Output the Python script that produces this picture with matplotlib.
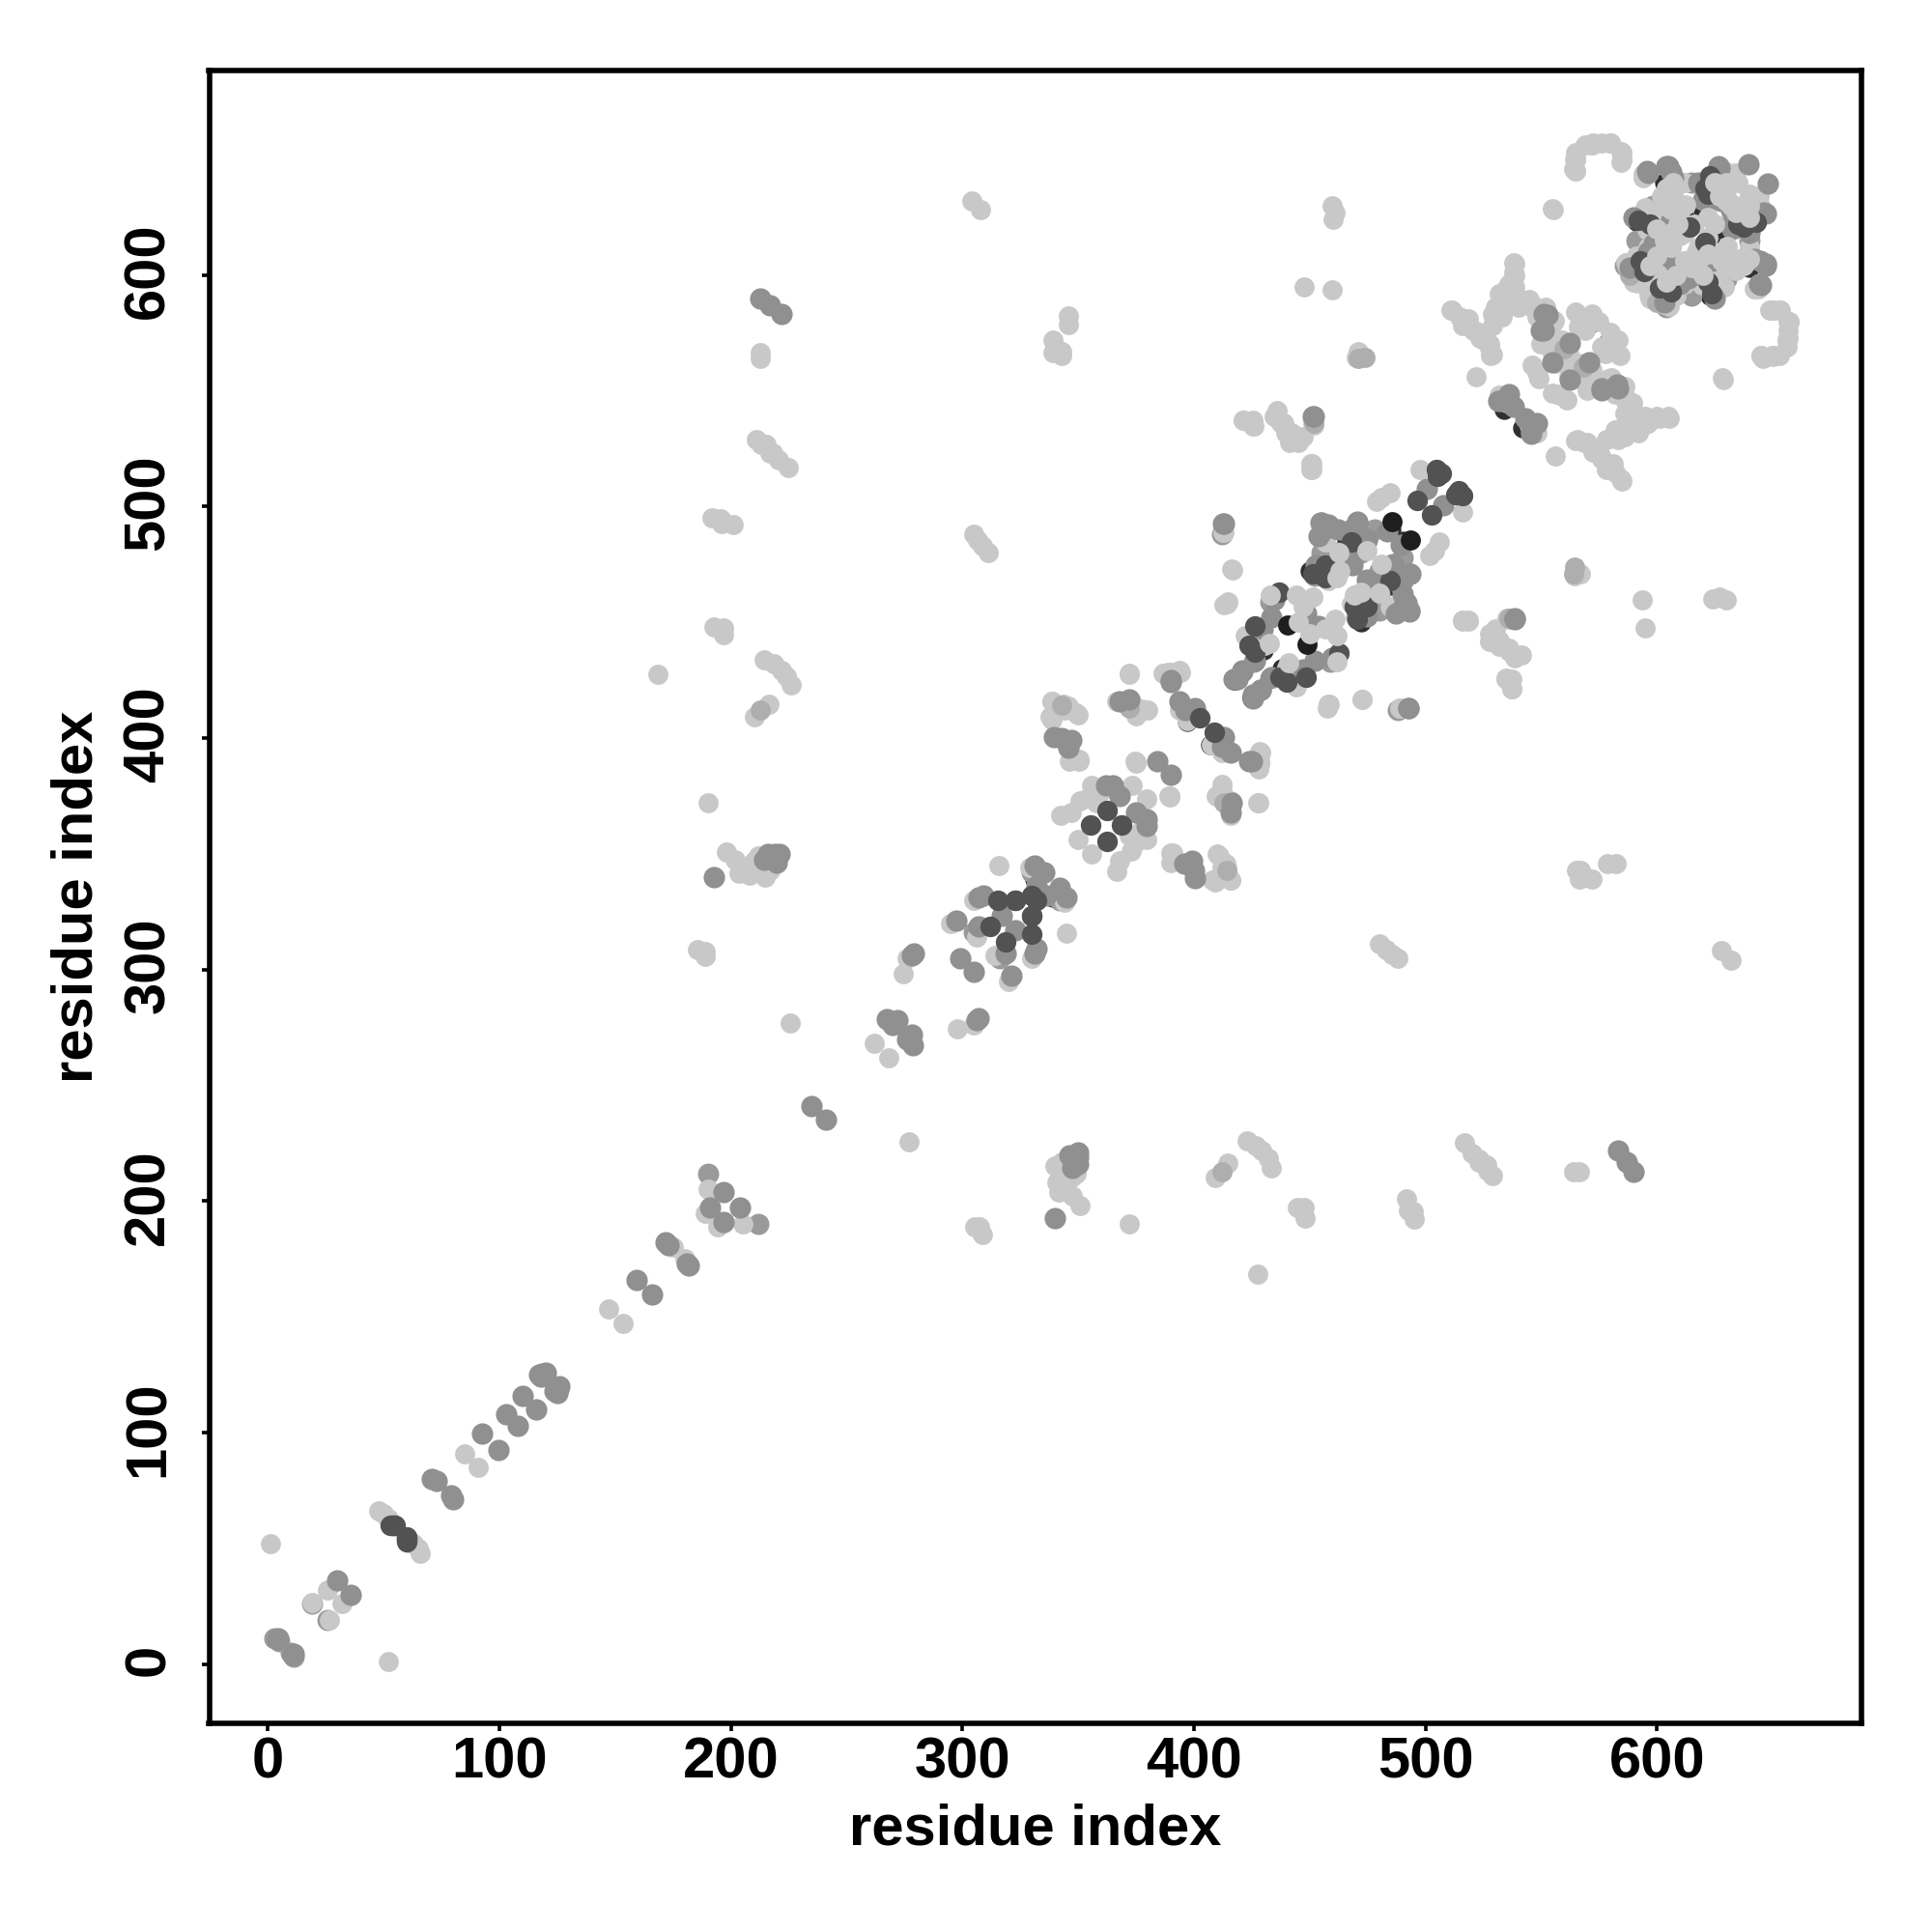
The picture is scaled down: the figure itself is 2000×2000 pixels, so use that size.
import matplotlib
matplotlib.use("Agg")
import matplotlib.pyplot as plt
from matplotlib.transforms import ScaledTranslation

# contacts as (residue i, residue j) with i < j; the map is symmetric
sliver = [(340,411),(397,407),(568,580),(571,579),(534,542),(332,341),(339,331),(622,632),(622.7,631.8),(591,623),(430,438),
          (417,425),(425,418),(460,470),(466,485),(450,472),(485,490),(603,640),(620,628),(600,610),(612,625),(210.6,342.7)]
mid_low = [(3,11),(5,10),(19,26),(53,61),(190,212),(305,316),(307,318),(412,488),(433,459),(426,433),(452,470),
           (600,620),(596,615),(598,630),(610,640),(591,615),(612,600),(605,618),(615,640),(586,604),(630,640),(620,640),
           (472,480),(462,480),(478,490),(455,480),(330,342)]
light = [(1,52),(19,26.5),(26,32),(48,66),(50,65),(52,63),(175,180),(85,91),(147,153.5),(189,194.5),(190,205),
         (168.6,427.7),(225.5,277),(262,268),(274.5,298),(276,305),(295,320),(305,330),(306,314),(329,344),(315.7,345),
         (350,356),(373.5,379.7),(356,379.7),(354,374),(351,373),(347,368),(342.5,366.8),(374.6,389.8),(360,377),(358,372),
         (338.7,415.8),(343.6,414.4),(349,411),(338,409),(345.7,413.7),(347,390.8),(350.5,390.8),(366.5,415.8),
         (377.6,412.3),(375,411),(372,414),(370,416),(372,428),(375,389),(367.9,415.8),(374.8,409.6),(373,416),(380,412),
         (374.8,389.5),(350.5,390),(346,390),(350,410),(344,412),(338.7,415.8),(338.7,408),(386.6,428),(394.3,428.3),(390,428.3),
         (387,428),(393.6,429),(388.8,428.3),(397,407.5),(393.6,412),
         (412.7,488.7),(416.5,472.8),(414.5,458.6),(413,457.5),(422,444.3),(430.4,440),(424,441),
         (456.8,484.6),(458,468),(456,486),(455,488),(484.6,506),(479,502),(481,504),(497.5,515.8),(421.4,537.3),(425.6,537.3),(425.6,534.6),
         (435.3,538.7),(437.4,536),(439.5,531.8),(444.3,529),(441.5,527.6),(451.3,536),(450.6,518.6),(450.6,515.8),
         (451,516),(451,518.6),(451.9,535.3),(445,527.7),(447,530),(442,532),(438.7,536),(436,541.5),(434.6,538.7),(425.5,536),
         (421.4,537.4),(426,534.6),(414.4,458),(416.8,472.5),(412.8,488.8),(372,427.6),(447.5,594.7),(459.6,593.6),
         (459.6,630),(461,627),(460,624),(554.8,628.6),(471,567),(470,564.4),(446.5,450.5),
         (564,645.7),(564.6,649.8),(565,653),(568.8,656),(572.5,656.8),(580,656.8),(584.6,653.3),(584.6,648.5),(576,656.8),
         (538,605.4),(538,601),(535.3,594.3),(533.4,588.7),(542.7,588.7),(536,596),(532,592),(528.8,583),(530,586),(540,586),
         (511,585),(514.8,581.8),(518.5,581),(522,575.5),(525,572),(527.8,568.6),(528.8,565.8),(516,578),(544.6,589.4),
         (548.3,581.8),(555.7,580.4),(552,586),(546,586),(570.6,579.7),(566,577.6),(568.8,576.2),(555.7,569.3),(548,558),
         (548.5,556.7),(555,579),(547,586.4),(543,589),(538.7,592),(536,586.4),(533,582),(529,578),(538.7,594.8),(538.7,605),
         (538.7,600),(528.3,565),(527.6,570),(523.5,572.5),(520.7,576),(517,580),(511.6,584.6),(521.8,556),(555.4,628.3),
         (535,544.6),(536,545.7),(559,572),(562,566),(553,575),(540,590),(565,584),(572,583),(550,570),(558,564),
         (546,561),(549,555),(562,556),(575,580),(555,566),(532,548),
         (650,585),(585,650),(657,580),(653,585),(580,657),(656,572),(572,656),(650,565),(645,565),(565,650),(565,645),
         (593.9,643.6),(594.8,629),(595.7,619.3),(606,612.6),(586.4,605.4),
         (590,597),(596.6,591.5),(603,587.3),(597,626),(596,626),(606.8,634),(630,644.3),(633.9,644),
         (598,625),(600,612),(610,625),(616,622),(612,640),
         (594,642),(591,608),(604,606),(612,596),(618,612),(625,632),
         (610,617),(602,600),(630,634),(628,643),(635,640),(620,636),(633,628),(618,605),(604,628),(596,608),(600,598),
         (212.8,566.4),(212.8,564),(211,529),(215.4,526.6),(217,523),(220.7,520),(225,517),(213,527),(218,523),
         (192,495),(195.7,494.7),(196,492.5),(201,492),(192.6,448),(197,447.4),(197,444.7),(214.4,433.6),(218.6,432),
         (221.8,429.3),(224,426.7),(226,423),(210,409),(216.5,414.5),(190,372),(198,350.7),(202,347.5),(203.7,341.7),
         (208,340.6),(212,342),(217,343),(215,340),(185.6,308.7),(188.8,307.6),(188.8,305.5),(304,632),(308,628),
         (304.8,488),(306.4,485.6),(308.5,483),(311,480),(339,571.7),(339,566.4),(343,565.3),(345.7,582.4),(345.7,578.7),
         (343,567),(340,569),(215,345),(210,347),(208,345),(205,343),(212,349)]
light_mid = [(473.9,564.4),(212.8,412),(451.6,536),(343,414),(372,413),(564,471),(588,600),(568,560)]
mid = [(4,10.6),(11,4.5),(30,36),(54,60),(71,80),(73,79),(92.5,99.5),(103,108),(110,116),(118.6,125.4),(117,125),(120,126),
       (118,124),(159.5,165.8),(172,182),(173,181),(191,197),(197,204),(235,241),(267.5,278.5),(272,278),(270,276),(279,306.8),
       (278,306),(297.5,321),(309,332),(307,331),(317,323),(307,318.5),(299,305),(331,345),(335.5,342),(336,332),
       (365,379.7),(362,379.7),(368,375),(384,390),(339.4,400.5),(347,399),(343,400),(345.7,396),(372,416.5),(368,416),
       (393.6,415.8),(396.4,412),(400.5,413),(424,390),(390,425),(400,412),
       (412.7,492.6),(434.6,459.6),(433.2,452),(429.7,447),(426.3,433.2),(420.7,429),(417,425.5),(428.8,420.7),(425.3,418.6),
       (448.5,454),(454.7,492.9),(458.2,492),(454,487.3),(466.5,488.7),(470.7,493.6),(468,490),(474.9,485.9),(452.6,474.8),
       (468.6,474.8),(483.5,489.4),(500.6,507.5),(470.7,493),(474.8,485.3),(455,493),(456.5,490),(470.7,481.8),(462,490),
       (451.6,538.7),(451.3,538.7),(412.8,492.6),(543,538),(531.6,545.7),(548.3,536),(545.5,532.5),(545.7,536),
       (551,583),(550,576.2),(562.2,570.7),(554.8,562.3),(552.6,582.7),(551,576),
       (595.7,645),(604,647),(606,644.3),(590,624.8),(598.5,613.7),(606,623.5),(588.3,603.3),(605,596.4),(607.8,605.4),(596,610),
       (613.4,604),(626.4,647),(639.4,647.8),(627,646),(606.8,642),(604.7,647),(596,644),(618,640),(628,632),(622,632),(620,632.5),
       (212.8,589.8),(217,587),(222,583),(192.5,340),(219,350),(221,350),(214.4,347.5),(219.7,346),(216,350)]
dark = [(53,60),(55,60),(315.4,330),(312,318.5),(332,330),(355.4,362.6),(362.3,368.8),(402.6,408.8),(436.7,462.8),(426.3,448.4),
        (426.3,437.3),(424,440),(468,484.6),(456.8,474.8),(451.3,470.7),(456.8,469.3),(504.7,515.8),(506.8,514.4),(505,513),
        (496.4,502.6),(614,620.7),(592,623.5),(596.6,604),(601.3,594.3),(606,592.9),(597,621.8),(622.7,642.9),(620.8,637.3),(622,635),
        (323,330),(330,323)]
black = [(440.6,448.7),(485.6,493.6)]
light_top = [(433,461.7),(432.5,440.8),(444.3,461.6),(451.3,461),(447,456.8),(445,450),(462.4,480),(474.9,481.1),(463,472),(461.7,469.3),
             (606,632),(606,628),(603,630),(609,622),(600,620),(612,606),(603,615),(606,618),(597,604),(607,640),(604,637.3),
             (602,633.9),(612.5,630.4),(628.3,636),(630,640),(622,625),(607,636),(600,608),(606,612),(625,640),(627,634),(632,630)]

shades = [(sliver,'#303030',215),(mid_low,'#9a9a9a',250),(light,'#c8c8c8',225),(light_mid,'#aeaeae',225),
          (mid,'#909090',255),(dark,'#525252',235),(black,'#1e1e1e',225),(light_top,'#c8c8c8',225)]
x_ticks = [0,100,200,300,400,500,600]
font = 'Liberation Sans'

fig = plt.figure(figsize=(20,20), dpi=100)
ax = fig.add_axes([216.5/2000, 216/2000, 1710.5/2000, 1711.3/2000])
for pairs, colour, size in shades:
    xs = [p[0] for p in pairs] + [p[1] for p in pairs]
    ys = [p[1] for p in pairs] + [p[0] for p in pairs]
    ax.scatter(xs, ys, s=size, c=colour, linewidths=0, zorder=2)
ax.set_xlim(-25.3, 688.3)
ax.set_ylim(-25.6, 688.4)
ax.set_xticks(x_ticks)
ax.set_yticks(x_ticks)
for s in ax.spines.values():
    s.set_linewidth(4)
ax.tick_params(axis='x', length=6, width=2.6, pad=3.5, labelsize=43)
ax.tick_params(axis='y', length=6, width=2.6, pad=19, labelsize=43)
shift = ScaledTranslation(0, 3/72, fig.dpi_scale_trans)
for t in ax.get_xticklabels():
    t.set_fontfamily(font); t.set_fontweight('bold')
for t in ax.get_yticklabels():
    t.set_fontfamily(font); t.set_fontweight('bold'); t.set_rotation(90); t.set_va('center')
    t.set_transform(t.get_transform() + shift)
ax.set_xlabel('residue index', fontsize=43, fontweight='bold', fontfamily=font, labelpad=10.5)
ax.set_ylabel('residue index', fontsize=43, fontweight='bold', fontfamily=font, labelpad=14)
fig.savefig('out.png', dpi=100, facecolor='white')
